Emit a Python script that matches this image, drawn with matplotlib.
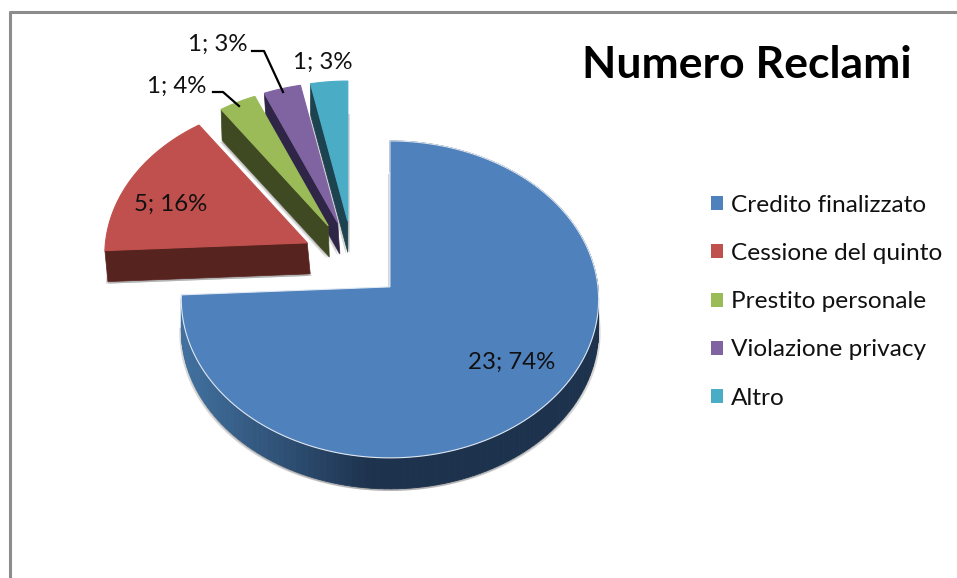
import matplotlib
matplotlib.use('Agg')
import matplotlib.pyplot as plt
from matplotlib.patches import Patch
import numpy as np

plt.rcParams['font.family'] = ['Lato', 'DejaVu Sans']

# data
categories = ['Credito finalizzato', 'Cessione del quinto', 'Prestito personale', 'Violazione privacy', 'Altro']
values = [23, 5, 1, 1, 1]
percents = [74, 16, 4, 3, 3]
title = 'Numero Reclami'

colors = ['#4f81bd', '#c0504d', '#9bbb59', '#8064a2', '#4bacc6']
wall_colors = ['#1d324d', '#57231f', '#3f4a22', '#2f2546', '#1d4351']
scales = [1.0, 0.97, 0.96, 0.96, 0.96]
wall_dx = [0, 3, 1, 2, 0]

# pie geometry, in pixels
cx, cy = 353, 260
ex, ey = 51, 39
rx, ry = 208, 157.5
persp = 0.079
depth = 31


def rim(theta, apex, s):
    u, v = np.sin(theta), -np.cos(theta)
    w = 1 - persp * v
    return apex[0] + rx * s * u / w, apex[1] + ry * s * v / w


fig = plt.figure(figsize=(9.57, 5.78), dpi=100)
ax = fig.add_axes([0, 0, 1, 1])
ax.set_xlim(0, 957)
ax.set_ylim(578, 0)
ax.axis('off')

# chart frame, only top and left show
ax.plot([9, 957], [11.5, 11.5], color='#8c8c8c', lw=2.2, solid_capstyle='butt')
ax.plot([9.5, 9.5], [11, 578], color='#8c8c8c', lw=2.2, solid_capstyle='butt')

edges = np.cumsum([0] + values) / sum(values) * 2 * np.pi

# back to front: small slices first, blue last
for i in [4, 3, 2, 1, 0]:
    a, b = edges[i], edges[i + 1]
    mid = (a + b) / 2
    apex = (cx + ex * np.sin(mid), cy - ey * np.cos(mid))
    t = np.linspace(a, b, 160)
    xs, ys = rim(t, apex, scales[i])
    fx = np.r_[apex[0], xs]
    fy = np.r_[apex[1], ys]

    # soft shadow under the body
    for sx, alpha in [(-2, 0.45), (2, 0.45), (0, 0.6)]:
        ax.fill(fx + sx + wall_dx[i], fy + depth + 2, color='#a8a8a8', alpha=alpha, lw=0, zorder=2 + (4 - i) * 3)

    z = 3 + (4 - i) * 3
    if i == 0:
        # blue wall is shaded from left to right
        for j in range(len(t) - 1):
            mx = (xs[j] + xs[j + 1]) / 2
            c = np.interp(mx, [185, 290, 370], [0, 0.55, 1])
            col = np.array(matplotlib.colors.to_rgb('#41709f')) * (1 - c) + np.array(matplotlib.colors.to_rgb(wall_colors[0])) * c
            ax.fill([xs[j], xs[j + 1], xs[j + 1], xs[j]],
                    [ys[j], ys[j + 1], ys[j + 1] + depth, ys[j] + depth],
                    color=col, lw=0.6, zorder=z)
    else:
        ax.fill([xs[0], apex[0], apex[0] + wall_dx[i], xs[0] + wall_dx[i]],
                [ys[0], apex[1], apex[1] + depth, ys[0] + depth],
                color=wall_colors[i], lw=0.5, zorder=z)

    ax.fill(fx, fy, facecolor=colors[i], edgecolor='#dfe8f2' if i == 0 else colors[i], lw=0.8, zorder=z + 1)

# data labels
labels = [f'{v}; {p}%' for v, p in zip(values, percents)]
label_x = [512, 171, 177, 217.5, 323]
label_y = [362, 204, 86, 44, 62]
for lab, x, y in zip(labels, label_x, label_y):
    ax.text(x, y, lab, fontsize=17.3, ha='center', va='center', color='#111111', zorder=30)

# leader lines
ax.plot([213, 223, 239], [92, 92, 106], color='black', lw=1.6, zorder=30)
ax.plot([252, 264, 283], [51, 51, 92], color='black', lw=1.6, zorder=30)

ax.text(747, 65, title, fontsize=32, fontweight='bold', ha='center', va='center', color='black', zorder=30)

handles = [Patch(facecolor=c, edgecolor='none', label=n) for c, n in zip(colors, categories)]
ax.legend(handles=handles, loc='upper left', bbox_to_anchor=(711 / 957, 1 - 195 / 578),
          frameon=False, fontsize=17.6, handlelength=0.5, handleheight=0.5,
          handletextpad=0.33, labelspacing=1.11, borderpad=0, borderaxespad=0,
          labelcolor='#111111')

fig.savefig('out.png', dpi=100)
